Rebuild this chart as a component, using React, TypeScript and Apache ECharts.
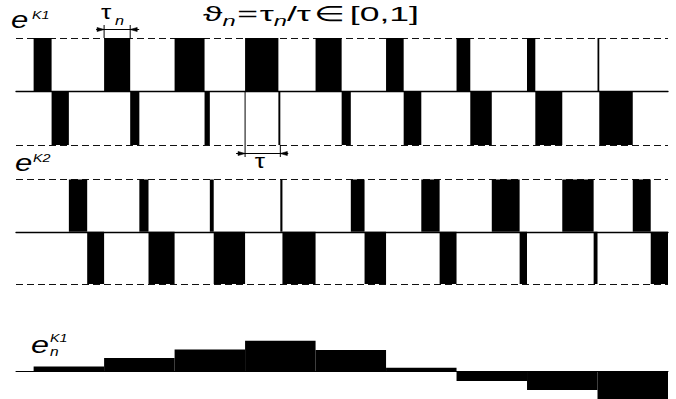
import React, { useEffect, useRef } from "react";
import * as echarts from "echarts";

// ---- data ----
// period index n = 1..9 ; each period = 2 tau
const periods = [1, 2, 3, 4, 5, 6, 7, 8, 9];
// relative duty theta_n = tau_n / tau of the positive pulse of converter K1
const thetaK1 = [0.51, 0.74, 0.85, 0.945, 0.74, 0.5, 0.39, 0.235, 0.05];
// relative duty of the positive pulse of converter K2 (second half period)
const thetaK2 = [0.52, 0.26, 0.11, 0.06, 0.39, 0.52, 0.79, 0.89, 0.51];
// averaged value e_n^K1 on every period
const eK1 = [0.17, 0.44, 0.72, 1.0, 0.7, 0.13, -0.3, -0.59, -0.88];
// which pulse carries the tau_n annotation, which half period the tau annotation
const tauNPeriod = 1;
const tauPeriod = 3;

const FONT = '"Liberation Sans", Arial, sans-serif';

function fontStr(size: number, italic: boolean) {
  return `${italic ? "italic " : ""}${size}px ${FONT}`;
}
let _ctx: CanvasRenderingContext2D | null = null;
function measure(t: string, font: string) {
  if (!_ctx) _ctx = document.createElement("canvas").getContext("2d");
  _ctx!.font = font;
  return _ctx!.measureText(t).width;
}
function txt(t: string, x: number, baseline: number, size: number, italic: boolean, sx: number) {
  return {
    type: "text",
    x,
    y: baseline - 0.3465 * size,
    scaleX: sx,
    silent: true,
    style: {
      text: t,
      font: fontStr(size, italic),
      fill: "#000",
      align: "left",
      verticalAlign: "middle",
    },
  };
}

export default function App() {
  const ref = useRef<HTMLDivElement>(null);
  useEffect(() => {
    if (!ref.current) return;
    const chart = echarts.init(ref.current, undefined, { renderer: "svg" });

    const k1Pulses = thetaK1.flatMap((t, n) => [
      [2 * n, 2 * n + t, 1],
      [2 * n + t, 2 * n + 1, -1],
    ]);
    const k2Pulses = thetaK2.flatMap((t, n) => [
      [2 * n + 1, 2 * n + 1 + t, 1],
      [2 * n + 1 + t, 2 * n + 2, -1],
    ]);
    const eSteps = eK1.map((v, n) => [2 * n, 2 * n + 2, v, periods[n]]);

    const rectItem = (params: any, api: any) => {
      const x0 = api.value(0);
      const x1 = api.value(1);
      const lv = api.value(2);
      const p0 = api.coord([x0, lv]);
      const p1 = api.coord([x1, 0]);
      return {
        type: "rect",
        shape: {
          x: p0[0],
          y: Math.min(p0[1], p1[1]),
          width: p1[0] - p0[0],
          height: Math.abs(p1[1] - p0[1]),
        },
        style: { fill: "#000" },
      };
    };

    const annotItem = (params: any, api: any) => {
      const a = api.coord([api.value(0), 1]);
      const b = api.coord([api.value(1), 1]);
      const c = api.coord([api.value(2), 0]);
      const d = api.coord([api.value(3), -1]);
      const ln = (x1: number, y1: number, x2: number, y2: number) => ({
        type: "line",
        shape: { x1, y1, x2, y2 },
        style: { stroke: "#000", lineWidth: 1 },
      });
      const arrow = (x: number, y: number, dir: number) => ({
        type: "polygon",
        shape: { points: [[x - dir * 7, y - 2], [x, y], [x - dir * 7, y + 2]] },
        style: { fill: "#000", stroke: "#000", lineWidth: 0.6 },
      });
      const yd = a[1] - 8.5;
      const yd2 = d[1] + 8.5;
      return {
        type: "group",
        children: [
          ln(a[0], a[1], a[0], a[1] - 13),
          ln(b[0], b[1], b[0], b[1] - 13),
          ln(a[0] - 8, yd, b[0] + 9, yd),
          arrow(a[0], yd, 1),
          arrow(b[0], yd, -1),
          txt("τ", a[0] - 3, a[1] - 19, 20, false, 1.3),
          txt("n", a[0] + 11, a[1] - 13, 13, true, 1.25),
          ln(c[0], c[1], c[0], d[1] + 12),
          ln(d[0], d[1], d[0], d[1] + 12),
          ln(c[0] - 9, yd2, d[0] + 8, yd2),
          arrow(c[0], yd2, 1),
          arrow(d[0], yd2, -1),
          txt("τ", (c[0] + d[0]) / 2 - 8, yd2 + 14.5, 20, false, 1.3),
        ],
      };
    };

    // formula  ϑn = τn/τ ∈ [0,1]
    const fPieces = [
      { t: "ϑ", s: 21, it: false, dy: 0, gap: 0 },
      { t: "n", s: 14, it: true, dy: 5, gap: 1 },
      { t: "=", s: 21, it: false, dy: 0, gap: 1 },
      { t: "τ", s: 21, it: false, dy: 0, gap: 0 },
      { t: "n", s: 14, it: true, dy: 5, gap: 0 },
      { t: "/", s: 21, it: false, dy: 0, gap: 0 },
      { t: "τ", s: 21, it: false, dy: 0, gap: 2 },
      { t: "∈", s: 21, it: false, dy: 0, gap: 3 },
      { t: "[0,1]", s: 21, it: false, dy: 0, gap: 0 },
    ];
    const natural = fPieces.reduce((acc, p) => acc + measure(p.t, fontStr(p.s, p.it)) + p.gap, 0);
    const fx0 = 203;
    const fsx = 216 / natural;
    let cx = fx0;
    const formula: any[] = [];
    fPieces.forEach((p) => {
      formula.push(txt(p.t, cx, 21 + p.dy, p.s, p.it, fsx));
      cx += (measure(p.t, fontStr(p.s, p.it)) + p.gap) * fsx;
    });

    const labels = [
      txt("e", 11, 27.5, 23, true, 1.35),
      txt("K1", 32, 19, 11.5, true, 1.25),
      txt("e", 15, 170.5, 23, true, 1.35),
      txt("K2", 33, 162, 11.5, true, 1.25),
      txt("e", 31, 352.5, 24, true, 1.35),
      txt("K1", 50, 342, 11.5, true, 1.25),
      txt("n", 50, 356, 12, true, 1.3),
      ...formula,
    ];

    const grids = [
      { left: 16, right: 8, top: 38, height: 107 },
      { left: 16, right: 8, top: 179.5, height: 104.5 },
      { left: 16, right: 8, top: 340.7, height: 58.3 },
    ];
    const xAxes = grids.map((g, i) => ({
      type: "value",
      gridIndex: i,
      min: -0.5,
      max: 18,
      axisLine: {
        show: true,
        onZero: true,
        lineStyle: { color: "#000", width: i === 2 ? 1 : 1.3 },
      },
      axisTick: { show: false },
      axisLabel: { show: false },
      splitLine: { show: false },
    }));
    const yAxes = grids.map((g, i) =>
      i < 2
        ? {
            type: "value",
            gridIndex: i,
            min: -1,
            max: 1,
            interval: 1,
            axisLine: { show: false },
            axisTick: { show: false },
            axisLabel: { show: false },
            splitLine: { show: true, lineStyle: { color: "#111", width: 1, type: [7, 4] } },
          }
        : {
            type: "value",
            gridIndex: i,
            min: -0.88,
            max: 1,
            axisLine: { show: false },
            axisTick: { show: false },
            axisLabel: { show: false },
            splitLine: { show: false },
          }
    );

    chart.setOption({
      animation: false,
      backgroundColor: "#fff",
      grid: grids,
      xAxis: xAxes,
      yAxis: yAxes,
      graphic: labels,
      series: [
        { type: "custom", name: "eK1", xAxisIndex: 0, yAxisIndex: 0, data: k1Pulses, renderItem: rectItem, silent: true },
        { type: "custom", name: "eK2", xAxisIndex: 1, yAxisIndex: 1, data: k2Pulses, renderItem: rectItem, silent: true },
        { type: "custom", name: "enK1", xAxisIndex: 2, yAxisIndex: 2, data: eSteps, renderItem: rectItem, silent: true },
        {
          type: "custom",
          name: "annot",
          xAxisIndex: 0,
          yAxisIndex: 0,
          data: [[2 * tauNPeriod, 2 * tauNPeriod + thetaK1[tauNPeriod], 2 * tauPeriod, 2 * tauPeriod + 1]],
          renderItem: annotItem,
          silent: true,
          z: 5,
        },
      ],
    });
    return () => chart.dispose();
  }, []);
  return (
    <div
      ref={ref}
      style={{ position: "fixed", left: 0, top: 0, width: 676, height: 399, background: "#fff" }}
    />
  );
}
